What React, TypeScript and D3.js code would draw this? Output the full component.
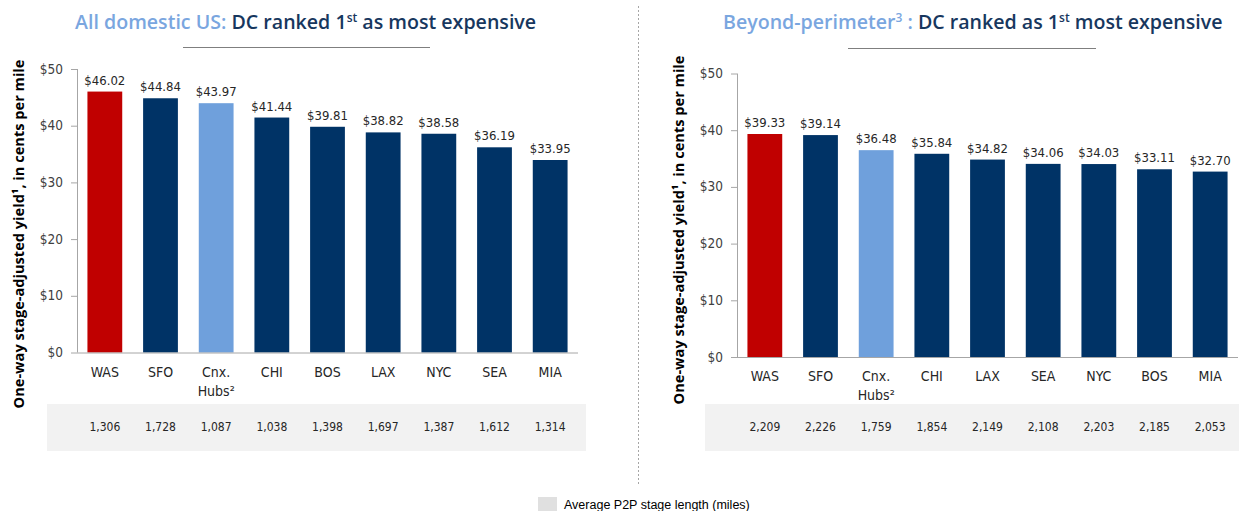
import React from "react";
import * as d3 from "d3";

const leftCategories = ["WAS", "SFO", "Cnx.\nHubs²", "CHI", "BOS", "LAX", "NYC", "SEA", "MIA"];
const leftValues = [46.02, 44.84, 43.97, 41.44, 39.81, 38.82, 38.58, 36.19, 33.95];
const leftStage = ["1,306", "1,728", "1,087", "1,038", "1,398", "1,697", "1,387", "1,612", "1,314"];

const rightCategories = ["WAS", "SFO", "Cnx.\nHubs²", "CHI", "LAX", "SEA", "NYC", "BOS", "MIA"];
const rightValues = [39.33, 39.14, 36.48, 35.84, 34.82, 34.06, 34.03, 33.11, 32.7];
const rightStage = ["2,209", "2,226", "1,759", "1,854", "2,149", "2,108", "2,203", "2,185", "2,053"];

const yTicks = [0, 10, 20, 30, 40, 50];

const RED = "#c00000";
const NAVY = "#003366";
const LIGHT = "#6fa0dc";
const TITLE_LIGHT = "#7aa6df";
const TITLE_DARK = "#17375e";
const NARROW = "'Liberation Sans Narrow', 'DejaVu Sans Condensed', sans-serif";
const SANS = "'Liberation Sans', Arial, sans-serif";
const OPEN = "'Open Sans', 'Liberation Sans', sans-serif";

function barColor(cat: string) {
  if (cat === "WAS") return RED;
  if (cat.startsWith("Cnx")) return LIGHT;
  return NAVY;
}

type PanelProps = {
  categories: string[];
  values: number[];
  stage: string[];
  x0: number;
  x1: number;
  yTop: number;
  yBottom: number;
  bandX0: number;
  bandX1: number;
  yTitleX: number;
  yTitleY: number;
};

function Panel(p: PanelProps) {
  const x = d3.scaleBand<string>().domain(p.categories).range([p.x0, p.x1]).paddingInner(0.375).paddingOuter(0.1875);
  const y = d3.scaleLinear().domain([0, 50]).range([p.yBottom, p.yTop]);
  const bw = x.bandwidth();
  return (
    <g>
      <rect x={p.bandX0} y={404} width={p.bandX1 - p.bandX0} height={47} fill="#f2f2f2" />
      {p.categories.map((c, i) => (
        <text key={"s" + i} x={(x(c) as number) + bw / 2} y={431} textAnchor="middle" fontFamily={NARROW} fontSize={12} fill="#262626">
          {p.stage[i]}
        </text>
      ))}
      {p.categories.map((c, i) => (
        <rect key={"b" + i} x={x(c)} y={y(p.values[i])} width={bw} height={y(0) - y(p.values[i])} fill={barColor(c)} />
      ))}
      {p.categories.map((c, i) => (
        <text key={"v" + i} x={(x(c) as number) + bw / 2} y={y(p.values[i]) - 7} textAnchor="middle" fontFamily={NARROW} fontSize={13} fill="#262626">
          {`$${p.values[i].toFixed(2)}`}
        </text>
      ))}
      <line x1={p.x0 + 0.5} x2={p.x0 + 0.5} y1={p.yTop} y2={p.yBottom} stroke="#a6a6a6" strokeWidth={1} />
      <line x1={p.x0} x2={p.x1} y1={p.yBottom + 0.5} y2={p.yBottom + 0.5} stroke="#a6a6a6" strokeWidth={1} />
      {yTicks.map((t) => (
        <g key={"t" + t}>
          <line x1={p.x0 - 6} x2={p.x0} y1={y(t) + 0.5} y2={y(t) + 0.5} stroke="#a6a6a6" />
          <text x={p.x0 - 14} y={y(t) + 4.5} textAnchor="end" fontFamily={NARROW} fontSize={13.5} fill="#404040">
            {`$${t}`}
          </text>
        </g>
      ))}
      {p.categories.map((c, i) => {
        const lines = c.split("\n");
        return (
          <text key={"c" + i} x={(x(c) as number) + bw / 2} y={p.yBottom + 24} textAnchor="middle" fontFamily={NARROW} fontSize={14} fill="#262626">
            {lines.map((l, j) => (
              <tspan key={j} x={(x(c) as number) + bw / 2} dy={j === 0 ? 0 : 19}>
                {l}
              </tspan>
            ))}
          </text>
        );
      })}
      <text
        transform={`translate(${p.yTitleX},${p.yTitleY}) rotate(-90)`}
        textAnchor="middle"
        fontFamily={OPEN}
        fontWeight="bold"
        fontSize={14.6}
        fill="#000"
      >
        One-way stage-adjusted yield¹, in cents per mile
      </text>
    </g>
  );
}

export default function App() {
  return (
    <svg width={1239} height={511} style={{ position: "absolute", left: 0, top: 0, background: "#fff" }}>
      <rect x={0} y={0} width={1239} height={511} fill="#fff" />
      <text x={75} y={29} fontFamily={OPEN} fontSize={19.6} fontWeight={600}>
        <tspan fill={TITLE_LIGHT}>All domestic US: </tspan>
        <tspan fill={TITLE_DARK}>DC ranked 1</tspan>
        <tspan fill={TITLE_DARK} fontSize={12} dy={-7}>st</tspan>
        <tspan fill={TITLE_DARK} dy={7}> as most expensive</tspan>
      </text>
      <line x1={183} x2={430} y1={47.5} y2={47.5} stroke="#7f7f7f" />
      <text x={723} y={29} fontFamily={OPEN} fontSize={19.6} fontWeight={600}>
        <tspan fill={TITLE_LIGHT}>Beyond-perimeter</tspan>
        <tspan fill={TITLE_LIGHT} fontSize={12} dy={-7}>3</tspan>
        <tspan fill={TITLE_LIGHT} dy={7}> : </tspan>
        <tspan fill={TITLE_DARK}>DC ranked as 1</tspan>
        <tspan fill={TITLE_DARK} fontSize={12} dy={-7}>st</tspan>
        <tspan fill={TITLE_DARK} dy={7}> most expensive</tspan>
      </text>
      <line x1={848} x2={1096} y1={48.5} y2={48.5} stroke="#7f7f7f" />

      <Panel
        categories={leftCategories}
        values={leftValues}
        stage={leftStage}
        x0={77}
        x1={578}
        yTop={69}
        yBottom={352.5}
        bandX0={47}
        bandX1={586}
        yTitleX={24}
        yTitleY={234}
      />
      <Panel
        categories={rightCategories}
        values={rightValues}
        stage={rightStage}
        x0={737}
        x1={1238}
        yTop={73.5}
        yBottom={357}
        bandX0={705}
        bandX1={1239}
        yTitleX={684}
        yTitleY={230}
      />

      <line x1={638.5} x2={638.5} y1={6} y2={484} stroke="#a6a6a6" strokeDasharray="2,2" />

      <rect x={538} y={497} width={19} height={14} fill="#e0e0e0" />
      <text x={564} y={509} fontFamily={SANS} fontSize={12.5} fill="#000">
        Average P2P stage length (miles)
      </text>
    </svg>
  );
}
